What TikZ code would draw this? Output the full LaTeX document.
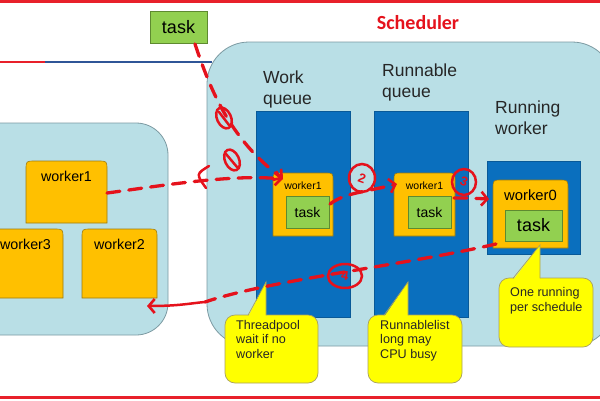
\documentclass[tikz,border=0pt]{standalone}
\usepackage{fontspec}
\setmainfont{Liberation Sans}
\newfontfamily\carl{Carlito}
\usetikzlibrary{arrows.meta,calc}
\definecolor{lb}{HTML}{B9DFE6}
\definecolor{lbd}{HTML}{7C9AA2}
\definecolor{qblue}{HTML}{0A6FBE}
\definecolor{wyel}{HTML}{FFC000}
\definecolor{wyeld}{HTML}{9C7A10}
\definecolor{tgreen}{HTML}{92D050}
\definecolor{tgreend}{HTML}{5E8A30}
\definecolor{cyel}{HTML}{FFFF00}
\definecolor{cyeld}{HTML}{A8A060}
\definecolor{hred}{HTML}{E5121C}
\definecolor{lred}{HTML}{E8202A}
\definecolor{lblue}{HTML}{2F5597}
\newcommand\topround[2]{%
  \filldraw[wk] (#1.south west) -- ([yshift=-#2]#1.north west)
    .. controls (#1.north west) .. ([xshift=#2]#1.north west)
    -- ([xshift=-#2]#1.north east)
    .. controls (#1.north east) .. ([yshift=-#2]#1.north east)
    -- (#1.south east) -- cycle;}
\newcommand\fsz[2]{\fontsize{#1}{#2}\selectfont}
\begin{document}
\begin{tikzpicture}[x=1pt,y=-1pt,
  region/.style={fill=lb,draw=lbd,line width=0.8pt},
  box/.style={anchor=north west,inner sep=0,outer sep=0,draw=none},
  wk/.style={fill=wyel,draw=wyeld,line width=0.6pt},
  queuebox/.style={fill=qblue,draw=qblue!80!black,line width=0.5pt},
  taskbox/.style={fill=tgreen,draw=tgreend,line width=0.7pt},
  callout/.style={fill=cyel,draw=cyeld,line width=0.7pt,rounded corners=10pt},
  hand/.style={draw=hred,line width=3.3pt,dash pattern=on 13pt off 9pt,line cap=round},
  handsolid/.style={draw=hred,line width=2.5pt,line cap=round},
  tipr/.style={-{Straight Barb[length=6pt,width=14pt,line width=2.6pt]}},
  lbl/.style={anchor=north west,inner sep=0,align=left,text=black!85},
]
\useasboundingbox (0,0) rectangle (600,400);
\clip (0,0) rectangle (600,400);
\fill[white] (0,0) rectangle (600,400);

% frame lines
\draw[lred,line width=3pt] (0,1.5) -- (600,1.5);
\draw[lred,line width=3pt] (0,397) -- (600,397);
\draw[lred,line width=2.6pt] (0,62) -- (45,62);
\draw[lblue,line width=2.6pt] (45,62) -- (212,62);

% title
\node[text=hred,font=\carl\bfseries\fsz{20}{24}] (sched) at (418,23) {Scheduler};

% regions
\filldraw[region,rounded corners=32pt] (-40,123) rectangle (168,335);
\node[box,minimum width=0] (pool) at (0,123) {};
\filldraw[region,rounded corners=42pt] (207,42) rectangle (614,346);
\node[box] (schedr) at (207,42) {};

% left workers
\node[box,minimum width=81pt,minimum height=62pt] (lw1) at (26,161) {};
\topround{lw1}{9pt}
\node[anchor=north,inner sep=0,font=\fsz{14.3}{17}] (lw1t) at ([yshift=-10pt]lw1.north) {worker1};
\node[box,minimum width=75pt,minimum height=69pt] (lw3) at (-12,229) {};
\topround{lw3}{9pt}
\node[anchor=north,inner sep=0,font=\fsz{14.3}{17}] (lw3t) at ([yshift=-10pt]lw3.north) {worker3};
\node[box,minimum width=75pt,minimum height=69pt] (lw2) at (82,229) {};
\topround{lw2}{9pt}
\node[anchor=north,inner sep=0,font=\fsz{14.3}{17}] (lw2t) at ([yshift=-10pt]lw2.north) {worker2};

% labels
\node[lbl,font=\fsz{17.5}{21}] (wql) at (263,71) {Work\\queue};
\node[lbl,font=\fsz{17.5}{21}] (rql) at (382,64) {Runnable\\queue};
\node[lbl,font=\fsz{17.5}{21}] (rwl) at (495,101) {Running\\worker};

% queues
\node[box,queuebox,minimum width=94pt,minimum height=206pt] (wq) at (256,111) {};
\node[box,queuebox,minimum width=94pt,minimum height=206pt] (rq) at (374,111) {};
\node[box,queuebox,minimum width=93pt,minimum height=93pt] (rs) at (487,161) {};

% workers in queues
\node[box,minimum width=60pt,minimum height=63pt] (qw1) at (273,173) {};
\topround{qw1}{8pt}
\node[anchor=north,inner sep=0,font=\fsz{10.5}{12}] (qw1t) at ([yshift=-9pt]qw1.north) {worker1};
\node[box,taskbox,minimum width=43pt,minimum height=32pt] (qt1) at (286,196) {};
\node[font=\fsz{14}{16}] (qt1t) at (qt1.center) {task};

\node[box,minimum width=61pt,minimum height=63pt] (rw1) at (394,173) {};
\topround{rw1}{8pt}
\node[anchor=north,inner sep=0,font=\fsz{10.5}{12}] (rw1t) at ([yshift=-9pt]rw1.north) {worker1};
\node[box,taskbox,minimum width=43pt,minimum height=32pt] (rt1) at (408,196) {};
\node[font=\fsz{14}{16}] (rt1t) at (rt1.center) {task};

\node[box,minimum width=75pt,minimum height=68pt] (w0) at (493,180) {};
\topround{w0}{9pt}
\node[anchor=north,inner sep=0,font=\fsz{14.8}{17}] (w0t) at ([yshift=-10pt]w0.north) {worker0};
\node[box,taskbox,minimum width=57pt,minimum height=31pt] (t0) at (505,210) {};
\node[font=\fsz{18}{20}] (t0t) at (t0.center) {task};

% incoming task
\node[box,taskbox,minimum width=57pt,minimum height=32pt] (tk) at (150,11) {};
\node[font=\fsz{18}{20}] (tkt) at (tk.center) {task};

% callouts
\node[box,callout,minimum width=93pt,minimum height=68pt] (c1) at (225,315) {};
\fill[cyel] (248,317) -- (266,282) -- (266,317) -- cycle;
\draw[cyeld,line width=0.7pt] (248,315.3) -- (266,282) -- (266,315.3);
\node[lbl,font=\fsz{12.6}{14.5}] (c1t) at (236,320) {Threadpool\\wait if no\\worker};

\node[box,callout,minimum width=94pt,minimum height=68pt] (c2) at (368,315) {};
\fill[cyel] (384,317) -- (408,282) -- (408,317) -- cycle;
\draw[cyeld,line width=0.7pt] (384,315.3) -- (408,282) -- (408,315.3);
\node[lbl,font=\fsz{12.6}{14.5}] (c2t) at (380,320) {Runnablelist\\long may\\CPU busy};

\node[box,callout,minimum width=94pt,minimum height=69pt] (c3) at (499,278) {};
\fill[cyel] (513,280) -- (540,245) -- (540,280) -- cycle;
\draw[cyeld,line width=0.7pt] (513,278.3) -- (540,245) -- (540,278.3);
\node[lbl,font=\fsz{12.6}{15.5}] (c3t) at (510,287) {One running\\per schedule};

% hand-drawn arrows
\coordinate (e1) at (283,179);
\coordinate (e3) at (397,184);
\coordinate (e4) at (489,199);
\coordinate (m5) at (205,302);
\coordinate (e5) at (147,306);
\draw[hand,tipr] (tk.south east) ++(-12,1) .. controls (212,95) and (232,140) .. (e1);
\draw[hand,tipr] (lw1.east) ++(0,1) .. controls (160,186) and (230,174) .. (e1);
\draw[handsolid] (209,166) .. controls (196,174) .. (206,188);
\draw[handsolid,rotate around={-65:(224,118)}] (224,118) ellipse[x radius=11pt,y radius=7pt];
\draw[handsolid] (219,112) -- (229,125);
\draw[handsolid,rotate around={-65:(232,160)}] (232,160) ellipse[x radius=11pt,y radius=7pt];
\draw[handsolid] (226,154) -- (237,167);

\draw[hand,tipr] (qt1.east) ++(1,-8) .. controls (345,193) and (360,193) .. (e3);
\draw[handsolid] (362,178) ellipse[x radius=13pt,y radius=14pt];
\node[text=hred,font=\bfseries\fsz{13}{14},rotate=-20] (n2) at (362,178) {2};

\draw[hand,tipr] (rt1.east) ++(3,-14) .. controls (468,198) .. (e4);
\draw[handsolid] (464,182) ellipse[x radius=12pt,y radius=13pt];
\node[text=hred,font=\bfseries\fsz{13}{14},rotate=-20] (n3) at (464,182) {3};

\draw[hand] (w0.south west) ++(3,-4) .. controls (400,266) and (270,280) .. (m5);
\draw[handsolid,-{Straight Barb[length=6pt,width=14pt,line width=2.6pt]}] (m5) .. controls (192,303) and (180,306) .. (e5);
\draw[handsolid] (345,276) ellipse[x radius=17pt,y radius=12pt];
\node[text=hred,font=\bfseries\fsz{13}{14},rotate=-10] (n4) at (345,276) {4};
\end{tikzpicture}
\end{document}
